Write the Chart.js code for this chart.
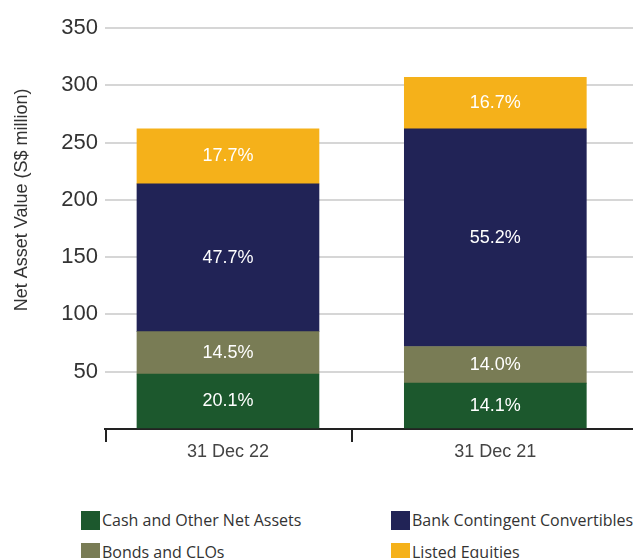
<!DOCTYPE html>
<html>
<head>
<meta charset="utf-8">
<script src="https://cdn.jsdelivr.net/npm/chart.js@4.4.0/dist/chart.umd.min.js"></script>
<style>
  body { margin: 0; background: #fff; }
  #wrap { position: relative; width: 633px; height: 558px; overflow: hidden; }
  #legend {
    position: absolute; left: 81px; top: 511px;
    display: grid; grid-auto-flow: column;
    grid-template-rows: 19px 19px; grid-template-columns: 310px auto; row-gap: 13px;
    font-family: "Open Sans", sans-serif; font-size: 16px; color: #333;
  }
  .item { display: flex; align-items: center; white-space: nowrap; line-height: 19px; }
  .box { width: 19px; height: 19px; margin-right: 2px; flex: none; }
</style>
</head>
<body>
<div id="wrap">
  <canvas id="navChart" width="633" height="480"></canvas>
  <div id="legend"></div>
</div>
<script>
// values (S$ million)
const categories = ["31 Dec 22", "31 Dec 21"];
const cashValues = [48, 40];
const bondValues = [37, 32];
const bankValues = [129, 190];
const equityValues = [48, 45];

const cashPct = ["20.1%", "14.1%"];
const bondPct = ["14.5%", "14.0%"];
const bankPct = ["47.7%", "55.2%"];
const equityPct = ["17.7%", "16.7%"];

const yTitle = "Net Asset Value (S$ million)";

// x runs 0..1 for the two dates, tick marks sit between them
const xMin = -0.46;
const xMax = 1.515;
const dividers = [-0.46, 0.46];

const toPoints = (arr) => arr.map((v, i) => ({ x: i, y: v }));

const segmentLabels = {
  id: "segmentLabels",
  afterDatasetsDraw(chart) {
    const ctx = chart.ctx;
    ctx.save();
    ctx.fillStyle = "#ffffff";
    ctx.font = '18px "Liberation Sans", Arial, sans-serif';
    ctx.textAlign = "center";
    ctx.textBaseline = "middle";
    chart.data.datasets.forEach((ds, di) => {
      chart.getDatasetMeta(di).data.forEach((bar, i) => {
        ctx.fillText(ds.pct[i], bar.x, (bar.y + bar.base) / 2);
      });
    });
    ctx.restore();
  },
};

const dividerTicks = {
  id: "dividerTicks",
  afterDraw(chart) {
    const xs = chart.scales.x;
    const ys = chart.scales.y;
    const ctx = chart.ctx;
    ctx.save();
    ctx.strokeStyle = "#222";
    ctx.lineWidth = 2;
    dividers.forEach((v) => {
      const px = Math.round(xs.getPixelForValue(v)) + 1;
      ctx.beginPath();
      ctx.moveTo(px, xs.top - 1);
      ctx.lineTo(px, xs.top + 13);
      ctx.stroke();
    });
    // axis title sits a bit above the middle of the axis
    ctx.translate(ys.left + 22, ys.getPixelForValue(200));
    ctx.rotate(-Math.PI / 2);
    ctx.fillStyle = "#333";
    ctx.font = '18px "Liberation Sans", Arial, sans-serif';
    ctx.textAlign = "center";
    ctx.textBaseline = "middle";
    ctx.fillText(yTitle, 0, 0);
    ctx.restore();
  },
};

const navChart = new Chart(document.getElementById("navChart"), {
  type: "bar",
  data: {
    datasets: [
      { label: "Cash and Other Net Assets", data: toPoints(cashValues), pct: cashPct, backgroundColor: "#1c582d" },
      { label: "Bonds and CLOs", data: toPoints(bondValues), pct: bondPct, backgroundColor: "#797c55" },
      { label: "Bank Contingent Convertibles", data: toPoints(bankValues), pct: bankPct, backgroundColor: "#212356" },
      { label: "Listed Equities", data: toPoints(equityValues), pct: equityPct, backgroundColor: "#f5b11a" },
    ],
  },
  options: {
    responsive: false,
    animation: false,
    barThickness: 182,
    layout: { padding: { top: 28, right: 0, bottom: 0, left: 0 } },
    plugins: { legend: { display: false }, tooltip: { enabled: false } },
    scales: {
      x: {
        type: "linear",
        stacked: true,
        offset: false,
        min: xMin,
        max: xMax,
        afterBuildTicks: (s) => { s.ticks = categories.map((c, i) => ({ value: i })); },
        afterFit: (s) => { s.height = 51; },
        ticks: {
          callback: (v) => categories[v],
          padding: 12,
          color: "#444",
          font: { family: '"Liberation Sans", Arial, sans-serif', size: 18 },
          maxRotation: 0,
        },
        grid: { display: true, offset: false, drawOnChartArea: false, drawTicks: false },
        border: { display: true, color: "#222", width: 2 },
      },
      y: {
        stacked: true,
        min: 0,
        max: 350,
        afterFit: (s) => { s.width = 105; },
        ticks: {
          stepSize: 50,
          padding: 7,
          color: "#333",
          font: { family: '"Liberation Sans", Arial, sans-serif', size: 22 },
          callback: (v) => (v === 0 ? "" : v),
        },
        grid: {
          drawTicks: false,
          lineWidth: 2,
          color: (c) => (c.tick.value === 0 ? "rgba(0,0,0,0)" : "#d6d6d6"),
        },
        border: { display: false },
      },
    },
  },
  plugins: [segmentLabels, dividerTicks],
});

// legend: two columns, built from the datasets
const legendEl = document.getElementById("legend");
navChart.data.datasets.forEach((ds) => {
  const item = document.createElement("div");
  item.className = "item";
  const box = document.createElement("span");
  box.className = "box";
  box.style.background = ds.backgroundColor;
  const txt = document.createElement("span");
  txt.textContent = ds.label;
  item.appendChild(box);
  item.appendChild(txt);
  legendEl.appendChild(item);
});
</script>
</body>
</html>
